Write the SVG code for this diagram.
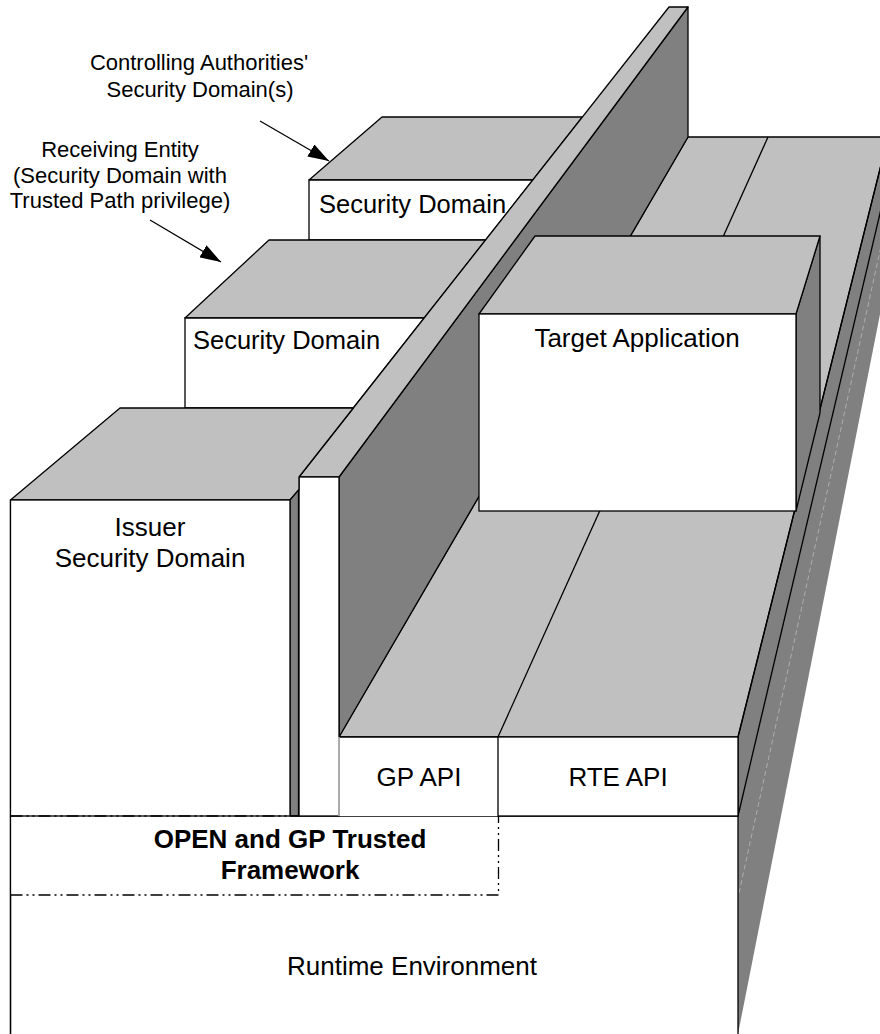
<svg xmlns="http://www.w3.org/2000/svg" width="880" height="1034" viewBox="0 0 880 1034">
<style>
.lt{fill:#c0c0c0;stroke:#000;stroke-width:1.3;stroke-linejoin:round}
.dk{fill:#808080;stroke:#000;stroke-width:1.3;stroke-linejoin:round}
.wh{fill:#fff;stroke:#000;stroke-width:1.3}
.ln{fill:none;stroke:#000;stroke-width:1.3}
.dd{fill:none;stroke:#000;stroke-width:1.3;stroke-dasharray:12 4 2 4 2 4}
.t{font-family:"Liberation Sans",Arial,sans-serif;font-size:26px;fill:#000}
.s{font-size:25.5px}
.a{font-family:"Liberation Sans",Arial,sans-serif;font-size:22px;fill:#000;text-anchor:middle}
.b{font-family:"Liberation Sans",Arial,sans-serif;font-size:26px;font-weight:bold;fill:#000;text-anchor:middle}
.m{text-anchor:middle}
</style>
<defs>
<marker id="ah" viewBox="0 0 21 14" refX="21" refY="7" markerWidth="21" markerHeight="14" markerUnits="userSpaceOnUse" orient="auto">
<path d="M0,0 L21,7 L0,14 z" fill="#000"/>
</marker>
</defs>
<rect width="880" height="1034" fill="#fff"/>
<g id="runtime">
<polygon points="738,737 888,137 915,137 738,1034" fill="#808080" stroke="none"/>
<polygon class="lt" points="339,737 688,137 888,137 738,737"/>
<line class="ln" x1="498" y1="737" x2="768" y2="137"/>
<line class="ln" x1="738" y1="737" x2="888" y2="137"/>
<line class="ln" x1="738" y1="816" x2="898" y2="137"/>
<line x1="739" y1="893" x2="905" y2="137" stroke="#b8b8b8" stroke-width="0.8" stroke-dasharray="5 3"/>
<rect x="10.5" y="816" width="727.5" height="220" fill="#fff"/>
<line class="ln" x1="299" y1="816" x2="738" y2="816"/>
<line class="ln" x1="738" y1="737" x2="738" y2="1034"/>
<line class="ln" x1="10.5" y1="500" x2="10.5" y2="1034"/>
<text class="t m" x="412" y="975">Runtime Environment</text>
</g>
<g id="gp-api">
<rect x="339" y="737" width="159" height="79" fill="#fff"/>
<line x1="339" y1="737" x2="339" y2="816" stroke="#c8c8c8" stroke-width="1.3"/>
<line class="ln" x1="339" y1="737" x2="498" y2="737"/>
<text class="t m" x="419" y="786">GP API</text>
</g>
<g id="rte-api">
<rect class="wh" x="498" y="737" width="240" height="79"/>
<text class="t m" x="618" y="786">RTE API</text>
</g>
<g id="sd-controlling">
<polygon class="lt" points="382,117 582.4,117 532.8,180 309,180"/>
<polygon class="wh" points="309,180 532.8,180 485.6,240 309,240"/>
<text class="t s" x="319" y="213">Security Domain</text>
</g>
<g id="sd-receiving">
<polygon class="lt" points="269,240 485.6,240 424.2,318 185,318"/>
<polygon class="wh" points="185,318 424.2,318 353.3,408 185,408"/>
<text class="t s" x="193" y="349">Security Domain</text>
</g>
<g id="wall">
<polygon class="dk" points="339,477 688,7 688,137 339,737"/>
<polygon class="lt" points="299,477 669,7 688,7 339,477"/>
<rect class="wh" x="299" y="477" width="40" height="339"/>
<line x1="339" y1="737" x2="339" y2="816" stroke="#c8c8c8" stroke-width="1.5"/>
</g>
<g id="issuer-sd">
<polygon class="lt" points="120,408 353.3,408 299,477 299,490 290,500 10.5,500"/>
<polygon class="dk" points="290,500 298.5,490 298.5,816 290,816"/>
<rect class="wh" x="10.5" y="500" width="279.5" height="316"/>
<text class="t m" x="150" y="536">Issuer</text>
<text class="t m" x="150" y="567">Security Domain</text>
</g>
<g id="target-app">
<polygon class="dk" points="796,314 820,236 820,413 796,511"/>
<polygon class="lt" points="535,236 820,236 796,314 479,314"/>
<rect class="wh" x="479" y="314" width="317" height="197"/>
<text class="t m" x="637" y="347">Target Application</text>
</g>
<g id="trusted-framework">
<rect x="11" y="817" width="487" height="77" fill="#fff"/>
<path class="dd" d="M10.5,816 H299"/>
<path class="dd" d="M10.5,895 H498.5 V816"/>
<line class="ln" x1="10.5" y1="816" x2="10.5" y2="1034"/>
<text class="b" x="290" y="848">OPEN and GP Trusted</text>
<text class="b" x="290" y="879">Framework</text>
</g>
<g id="labels">
<text class="a" x="199" y="70">Controlling Authorities'</text>
<text class="a" x="200" y="97">Security Domain(s)</text>
<text class="a" x="120" y="157">Receiving Entity</text>
<text class="a" x="120" y="183">(Security Domain with</text>
<text class="a" x="120" y="208">Trusted Path privilege)</text>
</g>
<g id="connectors">
<line class="ln" x1="260" y1="121" x2="329" y2="161" marker-end="url(#ah)"/>
<line class="ln" x1="150" y1="220" x2="221" y2="262" marker-end="url(#ah)"/>
</g>
</svg>
